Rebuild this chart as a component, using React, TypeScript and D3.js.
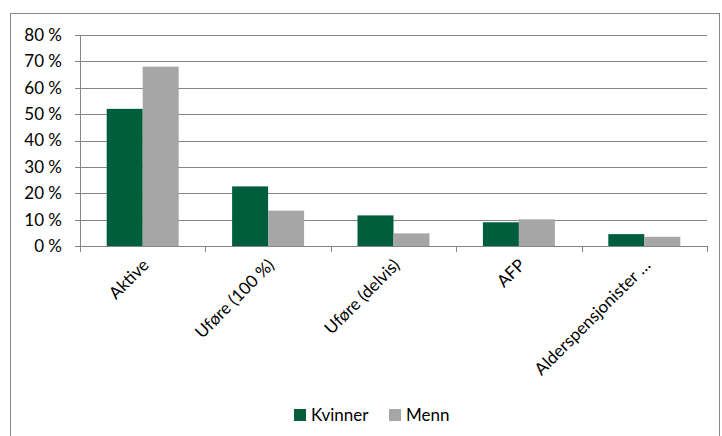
import React, { useEffect, useRef } from 'react';
import * as d3 from 'd3';

const categories = ['Aktive', 'Uføre (100 %)', 'Uføre (delvis)', 'AFP', 'Alderspensjonister …'];
const seriesNames = ['Kvinner', 'Menn'];
const kvinner = [52, 22.6, 11.6, 9.0, 4.5];
const menn = [68, 13.4, 4.8, 10.1, 3.5];
const yTicks = [0, 10, 20, 30, 40, 50, 60, 70, 80];

const colors = ['#005E3D', '#A6A6A6'];

export default function App() {
  const ref = useRef<SVGSVGElement>(null);

  useEffect(() => {
    const left = 80, right = 707, top = 35, bottom = 246;
    const font = 'Lato, "Open Sans", sans-serif';
    const fs = '17px';

    const svg = d3.select(ref.current);
    svg.selectAll('*').remove();

    // chart frame
    svg.append('rect')
      .attr('x', 10.5).attr('y', 13.5)
      .attr('width', 709).attr('height', 440)
      .attr('fill', 'white').attr('stroke', '#888').attr('stroke-width', 1);

    var x = d3.scaleBand().domain(categories).range([left, right]);
    var inner = d3.scaleBand().domain(seriesNames).range([0, 72]);
    var y = d3.scaleLinear().domain([0, 80]).range([bottom, top]);

    // gridlines
    svg.append('g').selectAll('line').data(yTicks.slice(1)).enter().append('line')
      .attr('x1', left).attr('x2', right)
      .attr('y1', d => Math.round(y(d)) + 0.5).attr('y2', d => Math.round(y(d)) + 0.5)
      .attr('stroke', '#868686').attr('stroke-width', 1);

    const data = [kvinner, menn];
    const offset = (x.bandwidth() - 72) / 2;
    seriesNames.forEach((s, si) => {
      svg.append('g').selectAll('rect').data(data[si]).enter().append('rect')
        .attr('x', (d, i) => (x(categories[i]) as number) + offset + (inner(s) as number))
        .attr('width', inner.bandwidth())
        .attr('y', d => y(d))
        .attr('height', d => bottom - y(d))
        .attr('fill', colors[si]);
    });

    // y axis
    svg.append('line')
      .attr('x1', left + 0.5).attr('x2', left + 0.5).attr('y1', top).attr('y2', bottom)
      .attr('stroke', '#868686');
    svg.append('g').selectAll('line').data(yTicks).enter().append('line')
      .attr('x1', left - 5).attr('x2', left)
      .attr('y1', d => Math.round(y(d)) + 0.5).attr('y2', d => Math.round(y(d)) + 0.5)
      .attr('stroke', '#868686');
    svg.append('g').selectAll('text').data(yTicks).enter().append('text')
      .attr('x', 62).attr('y', d => y(d)).attr('dy', '0.35em')
      .attr('text-anchor', 'end')
      .style('font-family', font).style('font-size', fs).attr('fill', '#000')
      .text(d => d + ' %');

    // x axis
    svg.append('line')
      .attr('x1', left).attr('x2', right).attr('y1', bottom + 0.5).attr('y2', bottom + 0.5)
      .attr('stroke', '#868686');
    const bounds = categories.map(c => x(c) as number).concat([right]);
    svg.append('g').selectAll('line').data(bounds).enter().append('line')
      .attr('x1', d => Math.round(d) + 0.5).attr('x2', d => Math.round(d) + 0.5)
      .attr('y1', bottom).attr('y2', bottom + 6)
      .attr('stroke', '#868686');
    svg.append('g').selectAll('text').data(categories).enter().append('text')
      .attr('transform', d => 'translate(' + ((x(d) as number) + x.bandwidth() / 2 + 3) + ',' + (bottom + 16) + ') rotate(-45)')
      .attr('text-anchor', 'end')
      .attr('dy', '0.35em')
      .style('font-family', font).style('font-size', fs).attr('fill', '#000')
      .text(d => d);

    // legend
    const leg = [{ x: 294, name: seriesNames[0] }, { x: 389, name: seriesNames[1] }];
    leg.forEach((l, i) => {
      svg.append('rect').attr('x', l.x).attr('y', 409).attr('width', 12).attr('height', 12).attr('fill', colors[i]);
      svg.append('text').attr('x', l.x + 17).attr('y', 421)
        .style('font-family', font).style('font-size', fs).attr('fill', '#000')
        .text(l.name);
    });
  }, []);

  return (
    <svg ref={ref} width={722} height={436}
      style={{ position: 'absolute', left: 0, top: 0, background: 'white' }} />
  );
}
